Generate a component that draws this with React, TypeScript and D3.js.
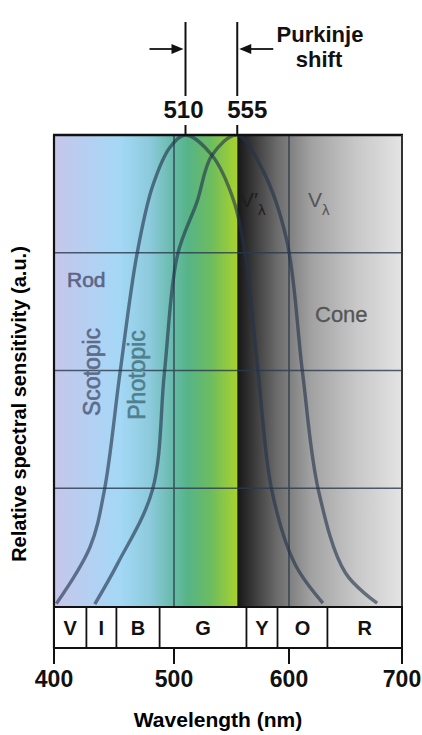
import React, { useMemo } from "react";
import * as d3 from "d3";

// axis / annotation values
const wavelengthTicks = [400, 500, 600, 700];
const gridValues = [0.25, 0.5, 0.75];
const gridWavelengths = [500, 600];
const peakWavelengths = [510, 555];
const bandNames = ["V", "I", "B", "G", "Y", "O", "R"];
const bandEdges = [400, 427, 452, 488, 563, 590, 634, 700];

// curves
const scotopicWavelengths = [402, 430, 442, 455, 469, 482, 497, 510, 533, 552, 562, 573, 585, 605, 630];
const scotopicValues = [0.005, 0.125, 0.246, 0.495, 0.745, 0.89, 0.975, 1.0, 0.957, 0.86, 0.745, 0.5, 0.246, 0.09, 0.006];

const photopicWavelengths = [434, 453, 482, 492, 503, 520, 533, 555, 577, 598, 612, 626, 650, 678];
const photopicValues = [0.004, 0.09, 0.246, 0.495, 0.745, 0.858, 0.957, 1.0, 0.926, 0.777, 0.495, 0.246, 0.07, 0.006];

// background colour ramps
const spectrumStops = [400, 430, 455, 480, 497, 512, 532, 555];
const spectrumColors = ["#c6c6ea", "#b4d0f2", "#a4d8f6", "#8ccadc", "#6cbcb0", "#56b486", "#6cbc60", "#a8d22c"];
const greyStops = [555, 570, 590, 620, 660, 700];
const greyColors = ["#161616", "#3c3c3c", "#6c6c6c", "#a2a2a2", "#c8c8c8", "#e4e4e4"];

const W = 422;
const H = 735;
const FONT = "'Liberation Sans', Arial, sans-serif";

function SensitivityChart() {
  // the original figure's wavelength axis is slightly uneven
  const x = useMemo(
    () => d3.scaleLinear().domain([400, 500, 600, 700]).range([54, 174, 289, 402]),
    []
  );
  const y = useMemo(() => d3.scaleLinear().domain([0, 1]).range([606, 135]), []);

  const line = useMemo(
    () =>
      d3
        .line<[number, number]>()
        .x((d) => x(d[0]))
        .y((d) => y(d[1]))
        .curve(d3.curveCatmullRom.alpha(0.5)),
    [x, y]
  );

  const scotopic = line(scotopicWavelengths.map((w, i) => [w, scotopicValues[i]]));
  const photopic = line(photopicWavelengths.map((w, i) => [w, photopicValues[i]]));

  const x0 = x(400);
  const x1 = x(700);
  const xSplit = x(555);
  const top = y(1);
  const bottom = y(0);
  const bandTop = bottom + 1;
  const bandBottom = bandTop + 41;

  const stopsFor = (stops: number[], colors: string[]) => {
    const a = x(stops[0]);
    const b = x(stops[stops.length - 1]);
    return stops.map((s, i) => (
      <stop key={i} offset={(x(s) - a) / (b - a)} stopColor={colors[i]} />
    ));
  };

  return (
    <svg width={W} height={H} style={{ position: "absolute", left: 0, top: 0, background: "#fff" }}>
      <defs>
        <linearGradient id="spectrum" gradientUnits="userSpaceOnUse" x1={x(400)} x2={x(555)} y1={0} y2={0}>
          {stopsFor(spectrumStops, spectrumColors)}
        </linearGradient>
        <linearGradient id="grey" gradientUnits="userSpaceOnUse" x1={x(555)} x2={x(700)} y1={0} y2={0}>
          {stopsFor(greyStops, greyColors)}
        </linearGradient>
        <clipPath id="plot">
          <rect x={x0} y={top} width={x1 - x0} height={bottom - top} />
        </clipPath>
      </defs>

      {/* backgrounds */}
      <rect x={x0} y={top} width={xSplit - x0} height={bottom - top} fill="url(#spectrum)" />
      <rect x={xSplit} y={top} width={x1 - xSplit} height={bottom - top} fill="url(#grey)" />

      {/* grid */}
      <g className="grid" stroke="#2a3a4c" strokeWidth={1.6} opacity={0.8}>
        {gridValues.map((v) => (
          <line key={v} x1={x0} x2={x1} y1={y(v)} y2={y(v)} />
        ))}
        {gridWavelengths.map((w) => (
          <line key={w} x1={x(w)} x2={x(w)} y1={top} y2={bottom} />
        ))}
      </g>

      {/* curves */}
      <g className="curves" clipPath="url(#plot)" fill="none" stroke="#22324a" strokeWidth={3.4} strokeOpacity={0.62}>
        <path d={scotopic || ""} />
        <path d={photopic || ""} />
      </g>

      {/* frame */}
      <g stroke="#111" fill="none">
        <line x1={x0 - 1} x2={x1 + 1} y1={top} y2={top} strokeWidth={2.5} />
        <line x1={x0} x2={x0} y1={top} y2={bandBottom} strokeWidth={2.2} />
        <line x1={x1} x2={x1} y1={top} y2={bandBottom} strokeWidth={2} stroke="#333" />
      </g>

      {/* colour band row */}
      <g className="bands">
        <rect x={x0} y={bandTop} width={x1 - x0} height={bandBottom - bandTop} fill="#fff" stroke="#111" strokeWidth={2} />
        {bandEdges.slice(1, -1).map((w) => (
          <line key={w} x1={x(w)} x2={x(w)} y1={bandTop} y2={bandBottom} stroke="#111" strokeWidth={1.8} />
        ))}
        {bandNames.map((n, i) => (
          <text
            key={n}
            x={(x(bandEdges[i]) + x(bandEdges[i + 1])) / 2}
            y={(bandTop + bandBottom) / 2 + 7}
            textAnchor="middle"
            fontFamily={FONT}
            fontWeight="bold"
            fontSize={20}
            fill="#111"
          >
            {n}
          </text>
        ))}
      </g>

      {/* bottom axis */}
      <g className="xAxis">
        {wavelengthTicks.map((w) => (
          <g key={w}>
            <line x1={x(w)} x2={x(w)} y1={bandBottom} y2={bandBottom + 16} stroke="#111" strokeWidth={2} />
            <text x={x(w)} y={687} textAnchor="middle" fontFamily={FONT} fontWeight="bold" fontSize={23} fill="#111">
              {w}
            </text>
          </g>
        ))}
        <text x={218} y={727} textAnchor="middle" fontFamily={FONT} fontWeight="bold" fontSize={21} fill="#000">
          Wavelength (nm)
        </text>
      </g>

      {/* y label */}
      <text
        transform="translate(26, 404) rotate(-90)"
        textAnchor="middle"
        fontFamily={FONT}
        fontWeight="bold"
        fontSize={20}
        fill="#000"
      >
        Relative spectral sensitivity (a.u.)
      </text>

      {/* Purkinje shift annotation */}
      <g className="peaks">
        {peakWavelengths.map((w, i) => (
          <g key={w}>
            <line x1={x(w)} x2={x(w)} y1={22} y2={96} stroke="#111" strokeWidth={2} />
            <line x1={x(w)} x2={x(w)} y1={125} y2={top} stroke="#111" strokeWidth={2} />
            <text
              x={x(w) + (i === 0 ? -2 : 10)}
              y={118}
              textAnchor="middle"
              fontFamily={FONT}
              fontWeight="bold"
              fontSize={24}
              fill="#111"
            >
              {w}
            </text>
          </g>
        ))}
        <line x1={x(510) - 36} x2={x(510) - 10} y1={49} y2={49} stroke="#111" strokeWidth={1.8} />
        <path d={`M${x(510) - 2},49 L${x(510) - 14},44 L${x(510) - 14},54 Z`} fill="#111" />
        <line x1={x(555) + 36} x2={x(555) + 10} y1={49} y2={49} stroke="#111" strokeWidth={1.8} />
        <path d={`M${x(555) + 2},49 L${x(555) + 14},44 L${x(555) + 14},54 Z`} fill="#111" />
        <text x={320} y={42} textAnchor="middle" fontFamily={FONT} fontWeight="bold" fontSize={22} fill="#111">
          Purkinje
        </text>
        <text x={319} y={67} textAnchor="middle" fontFamily={FONT} fontWeight="bold" fontSize={22} fill="#111">
          shift
        </text>
      </g>

      {/* labels inside the plot */}
      <g className="labels" fontFamily={FONT}>
        <text x={67} y={287} fontSize={21} fill="#5c6584" stroke="#5c6584" strokeWidth={0.6}>
          Rod
        </text>
        <text
          transform="translate(100, 372) rotate(-90)"
          textAnchor="middle"
          fontSize={23}
          fill="#5e6c8a"
          stroke="#5e6c8a"
          strokeWidth={0.6}
        >
          Scotopic
        </text>
        <text
          transform="translate(145, 375) rotate(-90)"
          textAnchor="middle"
          fontSize={23}
          fill="#4f7f8e"
          stroke="#4f7f8e"
          strokeWidth={0.6}
        >
          Photopic
        </text>
        <text x={240} y={207} fontSize={21} fill="#1e1e1e">
          V′<tspan fontSize={15} dy={8}>λ</tspan>
        </text>
        <text x={308} y={207} fontSize={21} fill="#555">
          V<tspan fontSize={15} dy={8}>λ</tspan>
        </text>
        <text x={315} y={322} fontSize={22} fill="#555" stroke="#555" strokeWidth={0.3}>
          Cone
        </text>
      </g>
    </svg>
  );
}

export default function App() {
  return <SensitivityChart />;
}
